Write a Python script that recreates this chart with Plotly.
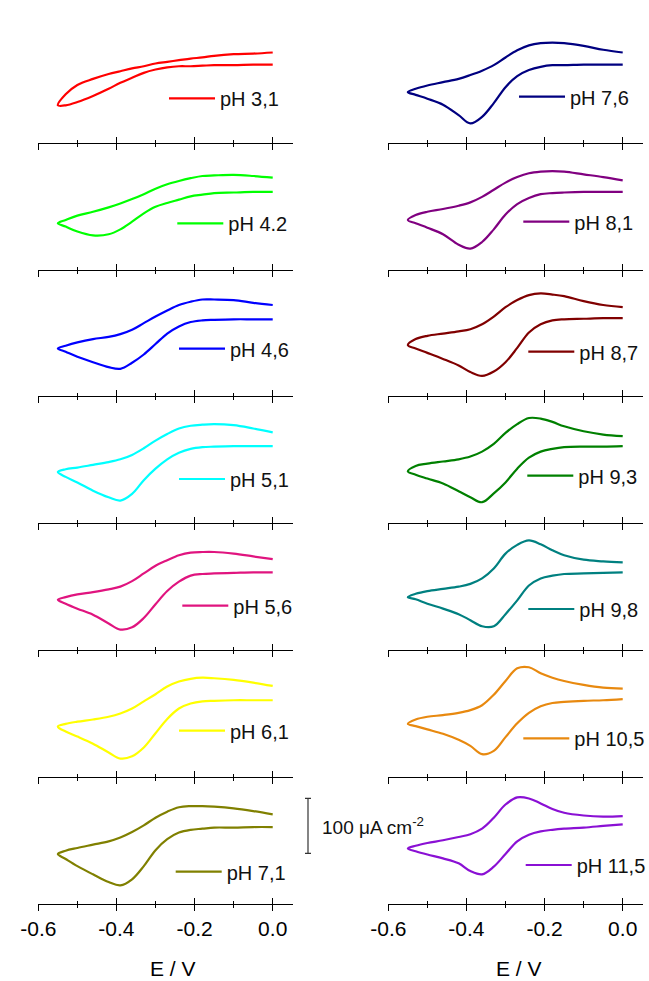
import plotly.graph_objects as go

# Potential grid (V) shared by every voltammogram: cathodic sweep 0.0 -> -0.55 V
E = [0.0, -0.05, -0.10, -0.15, -0.18, -0.21, -0.24, -0.27, -0.30,
     -0.33, -0.36, -0.39, -0.42, -0.46, -0.50, -0.53, -0.55]

tick_vals = [-0.6, -0.4, -0.2, 0.0]
tick_text = ["-0.6", "-0.4", "-0.2", "0.0"]
minor_vals = [-0.5, -0.3, -0.1]

ph_labels = ["pH 3,1", "pH 4.2", "pH 4,6", "pH 5,1", "pH 5,6", "pH 6,1", "pH 7,1",
             "pH 7,6", "pH 8,1", "pH 8,7", "pH 9,3", "pH 9,8", "pH 10,5", "pH 11,5"]

# Current density (µA cm-2) on the cathodic sweep (same order as E)
cath_31 = [2, 2, 1, 1, 0, -1, -1, -3, -7, -13, -22, -31, -42, -55, -66, -72, -72]
cath_42 = [1, 1, 0, -1, -4, -7, -13, -19, -26, -38, -53, -67, -76, -78, -71, -62, -56]
cath_46 = [0, 0, 0, -1, -2, -5, -13, -26, -45, -64, -79, -90, -87, -78, -68, -59, -53]
cath_51 = [0, 0, 0, -1, -2, -5, -12, -24, -41, -62, -87, -99, -93, -81, -66, -56, -47]
cath_56 = [1, 1, 0, -1, -2, -5, -16, -33, -57, -82, -99, -103, -92, -76, -65, -56, -49]
cath_61 = [-1, -1, -1, -2, -3, -7, -16, -35, -61, -87, -103, -107, -96, -80, -67, -58, -49]
cath_71 = [-1, -1, -2, -2, -4, -6, -11, -23, -43, -72, -96, -107, -101, -87, -72, -59, -50]
cath_76 = [2, 2, 2, 1, 1, -2, -8, -19, -39, -68, -93, -105, -90, -71, -60, -53, -48]
cath_81 = [1, 1, 1, 0, -1, -3, -10, -21, -40, -67, -90, -102, -95, -76, -64, -56, -50]
cath_87 = [2, 2, 1, 0, -2, -9, -24, -52, -78, -95, -103, -96, -84, -72, -61, -53, -47]
cath_93 = [0, -1, -1, -2, -5, -10, -21, -41, -66, -86, -102, -93, -82, -68, -59, -52, -46]
cath_98 = [1, 0, -1, -2, -5, -10, -23, -50, -75, -97, -97, -86, -75, -65, -56, -48, -44]
cath_105 = [1, -1, -2, -4, -6, -12, -24, -43, -68, -93, -99, -84, -73, -62, -54, -48, -44]
cath_115 = [4, 1, -2, -4, -6, -9, -15, -27, -50, -73, -87, -81, -67, -58, -51, -45, -40]

# Current density (µA cm-2) on the anodic sweep (listed in the same E order)
anod_31 = [24, 22, 21, 18, 15, 13, 10, 7, 4, -1, -5, -10, -15, -24, -35, -52, -72]
anod_42 = [27, 30, 32, 31, 30, 26, 21, 15, 7, -3, -12, -20, -27, -35, -42, -50, -56]
anod_46 = [26, 30, 35, 36, 36, 32, 26, 16, 5, -7, -19, -27, -32, -36, -42, -48, -53]
anod_51 = [25, 32, 38, 40, 39, 37, 32, 22, 10, -4, -16, -24, -29, -34, -39, -42, -47]
anod_56 = [25, 30, 35, 38, 38, 37, 32, 23, 13, -1, -15, -25, -30, -35, -39, -44, -49]
anod_61 = [25, 31, 36, 39, 40, 38, 33, 24, 10, -3, -16, -25, -31, -36, -40, -44, -49]
anod_71 = [22, 28, 33, 36, 37, 37, 35, 27, 16, 2, -10, -20, -27, -33, -39, -44, -50]
anod_76 = [24, 29, 36, 41, 42, 41, 37, 28, 15, 1, -9, -17, -24, -30, -36, -42, -48]
anod_81 = [22, 28, 33, 38, 39, 38, 35, 28, 18, 5, -8, -18, -24, -30, -35, -41, -50]
anod_87 = [22, 26, 33, 42, 45, 47, 44, 35, 22, 5, -9, -18, -22, -26, -30, -36, -47]
anod_93 = [18, 21, 27, 36, 44, 50, 51, 40, 24, 4, -10, -19, -24, -28, -32, -36, -46]
anod_98 = [19, 21, 24, 32, 41, 52, 59, 51, 35, 8, -10, -20, -25, -29, -33, -38, -44]
anod_105 = [20, 22, 27, 34, 40, 48, 59, 57, 34, 9, -10, -19, -24, -28, -31, -36, -44]
anod_115 = [19, 18, 20, 25, 32, 42, 51, 53, 40, 16, -4, -14, -19, -25, -30, -35, -40]

cathodic = [cath_31, cath_42, cath_46, cath_51, cath_56, cath_61, cath_71,
            cath_76, cath_81, cath_87, cath_93, cath_98, cath_105, cath_115]
anodic = [anod_31, anod_42, anod_46, anod_51, anod_56, anod_61, anod_71,
          anod_76, anod_81, anod_87, anod_93, anod_98, anod_105, anod_115]

scale_bar_value = 100      # µA cm-2
scale_bar_bottom = -49     # µA cm-2, on the bottom-left panel's axis

# ---- styling / layout ----
colors = ["#ff0000", "#00ff00", "#0000ff", "#00ffff", "#e0147f", "#ffff00", "#808000",
          "#000080", "#800080", "#800000", "#008000", "#008080", "#e8890f", "#8a10d4"]

W, H = 649, 981
FONT = "Liberation Sans, Arial, sans-serif"
px_per_volt = 390.7
# range starts a hair before -0.6 so the inward end tick is not clipped
x_range = [-0.602, 0.052]
col_left_px = [38.3 - 0.002 * px_per_volt, 388.3 - 0.002 * px_per_volt]
row_axis_px = [142.7 + k * 126.8 for k in range(7)]
row_h_px = 126.8
y_range = [-140, -140 + row_h_px / 0.55]

# legend: left edge of the label text (x px) and centre line (y px) for each panel
ITEM_W = 46
legend_pos = [(220, 98.3), (228.3, 223.3), (230, 348.7), (230, 479), (233.3, 605.7),
              (230, 730.7), (226.7, 871.7), (570, 96.7), (574.3, 221.7), (579.3, 351.7),
              (578.3, 475.7), (579.3, 609), (574.3, 738.3), (576.7, 865)]

fig = go.Figure()
layout = dict(
    width=W, height=H, margin=dict(l=0, r=0, t=0, b=0, autoexpand=False),
    paper_bgcolor="white", plot_bgcolor="rgba(0,0,0,0)",
    font=dict(family=FONT, color="black"),
    showlegend=True,
)

for p in range(14):
    col, row = divmod(p, 7)
    n = p + 1
    x0_px = col_left_px[col]
    x1_px = x0_px + (x_range[1] - x_range[0]) * px_per_volt
    yb = row_axis_px[row]
    dom_x = [x0_px / W, x1_px / W]
    dom_y = [1 - yb / H, 1 - (yb - row_h_px) / H]
    leg = "legend" if n == 1 else f"legend{n}"

    xs = E + E[::-1][1:]
    ys = cathodic[p] + anodic[p][::-1][1:]
    fig.add_trace(go.Scatter(
        x=xs, y=ys, mode="lines", name=ph_labels[p],
        line=dict(color=colors[p], width=2.2, shape="spline", smoothing=1.0),
        xaxis=f"x{n}", yaxis=f"y{n}", legend=leg, hoverinfo="skip",
    ))

    bottom = row == 6
    common = dict(range=x_range, tickvals=tick_vals, ticktext=tick_text,
                  ticklen=6, tickwidth=1.3, tickcolor="black",
                  showgrid=False, zeroline=False, fixedrange=True, automargin=False,
                  minor=dict(tickvals=minor_vals, ticklen=3, tickwidth=1.3,
                             tickcolor="black", showgrid=False))
    ax_main = dict(common, domain=dom_x, anchor=f"y{n}", ticks="outside",
                   showline=True, linecolor="black", linewidth=1.3,
                   showticklabels=bottom,
                   tickfont=dict(size=21, family=FONT, color="black"))
    ax_main["minor"] = dict(common["minor"], ticks="outside")
    ax_over = dict(common, overlaying=f"x{n}", anchor=f"y{n}", side="bottom",
                   ticks="inside", showline=False, showticklabels=False)
    ax_over["minor"] = dict(common["minor"], ticks="inside")
    layout[f"xaxis{n}"] = ax_main
    layout[f"xaxis{n + 14}"] = ax_over
    layout[f"yaxis{n}"] = dict(domain=dom_y, range=y_range, anchor=f"x{n}",
                               visible=False, fixedrange=True)

    tx, ty = legend_pos[p]
    layout[leg] = dict(x=(tx - ITEM_W - 10) / W, y=1 - ty / H, xanchor="left",
                       yanchor="middle", bgcolor="rgba(0,0,0,0)", borderwidth=0,
                       itemwidth=ITEM_W, font=dict(size=20, family=FONT, color="#111"),
                       tracegroupgap=0, itemclick=False, itemdoubleclick=False)

# placeholder traces on the overlay axes so their inward ticks are drawn
for p in range(14):
    n = p + 1
    fig.add_trace(go.Scatter(x=[None], y=[None], mode="lines", xaxis=f"x{n + 14}",
                             yaxis=f"y{n}", showlegend=False, hoverinfo="skip"))

# axis titles
annotations = []
for xc in (173, 519):
    annotations.append(dict(text="E / V", x=xc / W, y=1 - 968.3 / H, xref="paper",
                            yref="paper", showarrow=False, xanchor="center",
                            yanchor="middle", font=dict(size=21, family=FONT)))

# 100 µA cm-2 scale bar beside the bottom-left panel
bar_x = 308 / W
cap = 3 / W
sb_top = scale_bar_bottom + scale_bar_value
shapes = [
    dict(type="line", xref="paper", yref="y7", x0=bar_x, x1=bar_x,
         y0=scale_bar_bottom, y1=sb_top, line=dict(color="#333", width=1.2)),
    dict(type="line", xref="paper", yref="y7", x0=bar_x - cap, x1=bar_x + cap,
         y0=scale_bar_bottom, y1=scale_bar_bottom, line=dict(color="#333", width=1.2)),
    dict(type="line", xref="paper", yref="y7", x0=bar_x - cap, x1=bar_x + cap,
         y0=sb_top, y1=sb_top, line=dict(color="#333", width=1.2)),
]
annotations.append(dict(text="100 \u03bcA cm<sup>-2</sup>", x=320 / W, xref="paper",
                        y=(scale_bar_bottom + sb_top) / 2, yref="y7",
                        showarrow=False, xanchor="left", yanchor="middle",
                        font=dict(size=19, family=FONT, color="#111")))

layout["annotations"] = annotations
layout["shapes"] = shapes
fig.update_layout(**layout)
fig.write_html("out.html")
